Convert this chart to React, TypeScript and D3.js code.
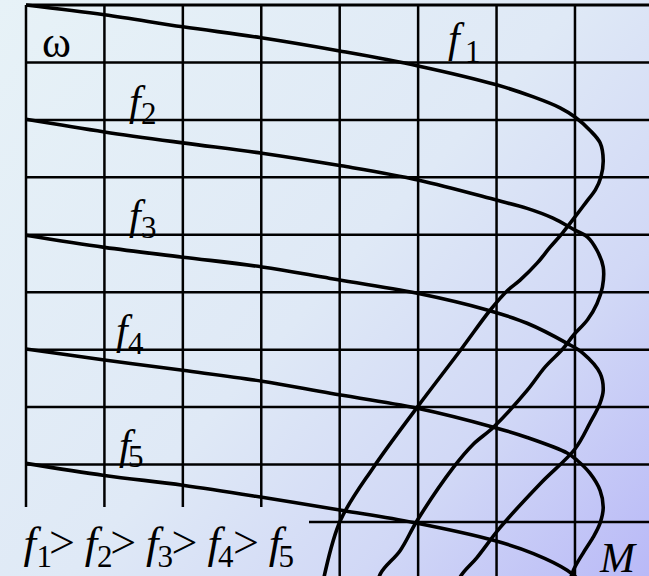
import React from "react";
import * as d3 from "d3";

// Grid positions (M columns, ω rows)
const gridM = [0, 1, 2, 3, 4, 5, 6, 7];
const gridOmega = [10, 9, 8, 7, 6, 5, 4, 3, 2, 1];

// Mechanical characteristics ω(M): [M, ω]
const curveF1: [number, number][] = [
  [0, 10], [1, 9.83], [2, 9.62], [3, 9.43], [4, 9.2], [5, 8.94], [6, 8.61],
  [6.47, 8.4], [6.81, 8.21], [7, 8.05], [7.19, 7.82], [7.32, 7.6], [7.36, 7.3],
  [7.33, 7.0], [7.26, 6.78], [7.16, 6.6], [7.0, 6.31], [6.84, 6.03], [6.68, 5.78],
  [6.52, 5.51], [6.3, 5.21], [6.14, 5.03], [5.92, 4.69], [5.54, 3.99], [4.99, 3.0],
  [4.43, 1.95], [4.01, 1.03], [3.81, 0.1], [3.76, -0.3],
];
const curveF2: [number, number][] = [
  [0, 8.01], [1, 7.79], [2, 7.6], [3.01, 7.42], [4.02, 7.2], [5.01, 6.95], [6.01, 6.6],
  [6.39, 6.46], [6.72, 6.29], [7, 6.08], [7.16, 5.96], [7.28, 5.73], [7.36, 5.44],
  [7.35, 5.09], [7.28, 4.8], [7.16, 4.52], [6.98, 4.25], [6.85, 4.02], [6.62, 3.7],
  [6.39, 3.29], [5.96, 2.65], [5.7, 2.35], [5.45, 1.95], [4.99, 1.03], [4.77, 0.5],
  [4.52, 0.1], [4.45, -0.3],
];
const curveF3: [number, number][] = [
  [0, 5.99], [1, 5.78], [2, 5.61], [3.01, 5.44], [3.88, 5.24], [4.99, 4.98],
  [5.88, 4.69], [6.39, 4.46], [6.9, 4.11], [7.1, 3.94], [7.32, 3.59], [7.36, 3.29],
  [7.32, 3.07], [7.19, 2.72], [7.0, 2.27], [6.56, 1.67], [6.05, 0.91], [5.75, 0.38],
  [5.54, 0.05], [5.45, -0.3],
];
const curveF4: [number, number][] = [
  [0, 4.01], [1, 3.82], [2, 3.64], [3.01, 3.45], [3.88, 3.24], [4.99, 2.98],
  [5.96, 2.65], [6.39, 2.47], [6.9, 2.2], [7.03, 2.07], [7.19, 1.85], [7.32, 1.55],
  [7.36, 1.25], [7.32, 0.98], [7.23, 0.73], [7.1, 0.45], [6.98, 0.16], [6.9, -0.2],
];
const curveF5: [number, number][] = [
  [0, 2.02], [1, 1.81], [2, 1.64], [3.01, 1.43], [4.04, 1.2], [4.94, 0.99],
  [5.96, 0.68], [6.47, 0.45], [6.9, 0.16], [7.08, -0.05], [7.2, -0.25],
];
const curves = [curveF1, curveF2, curveF3, curveF4, curveF5];
const freqIdx = ["1", "2", "3", "4", "5"];

const W = 649;
const H = 576;

export default function App() {
  const x = d3.scaleLinear().domain([0, 8]).range([26, 653.4]);
  const y = d3.scaleLinear().domain([0, 10]).range([579.4, 5]);
  const line = d3
    .line<[number, number]>()
    .x((d) => x(d[0]))
    .y((d) => y(d[1]))
    .curve(d3.curveCatmullRom.alpha(0.5));

  const serif = "'Liberation Serif', 'Times New Roman', serif";
  const boxTop = 507;
  const boxRight = 309;

  const labelPos = [
    { fx: 448, by: 52, sx: 465, sy: 62 },
    { fx: 129, by: 115, sx: 141, sy: 124 },
    { fx: 129, by: 229, sx: 141, sy: 238 },
    { fx: 116, by: 344, sx: 128, sy: 354 },
    { fx: 119, by: 459, sx: 128, sy: 467 },
  ];

  return (
    <svg
      width={W}
      height={H}
      style={{ position: "fixed", left: 0, top: 0, display: "block" }}
    >
      <defs>
        <linearGradient id="bg" gradientUnits="userSpaceOnUse" x1={0} y1={0} x2={W} y2={H}>
          <stop offset="0" stopColor="#e7f2f7" />
          <stop offset="0.5" stopColor="#dfe9f6" />
          <stop offset="0.75" stopColor="#d1d8f6" />
          <stop offset="1" stopColor="#b9b9f7" />
        </linearGradient>
      </defs>
      <rect x={0} y={0} width={W} height={H} fill="url(#bg)" />

      {/* grid */}
      <g stroke="#000" strokeWidth={2.5}>
        {gridM.map((m) => (
          <line
            key={"v" + m}
            x1={x(m)}
            x2={x(m)}
            y1={y(10)}
            y2={x(m) < boxRight ? boxTop : H}
          />
        ))}
        {gridOmega.map((w) => (
          <line
            key={"h" + w}
            x1={y(w) > boxTop ? boxRight : x(0)}
            x2={W}
            y1={y(w)}
            y2={y(w)}
            strokeWidth={w === 10 ? 3.2 : 2.5}
          />
        ))}
      </g>

      {/* characteristics */}
      <g fill="none" stroke="#000" strokeWidth={3.6} strokeLinejoin="round">
        {curves.map((c, i) => (
          <path key={i} d={line(c) || ""} />
        ))}
      </g>

      {/* labels */}
      <text x={42} y={57} fontFamily={serif} fontSize={44} fill="#000">
        ω
      </text>
      {labelPos.map((p, i) => (
        <text key={"lab" + i} fontFamily={serif} fill="#000">
          <tspan x={p.fx} y={p.by} fontSize={42} fontStyle="italic">
            f
          </tspan>
          <tspan x={p.sx} y={p.sy} fontSize={31}>
            {freqIdx[i]}
          </tspan>
        </text>
      ))}
      <text x={600} y={572} fontFamily={serif} fontSize={42} fontStyle="italic" fill="#000">
        M
      </text>

      {/* f1 > f2 > f3 > f4 > f5 */}
      <text fontFamily={serif} fill="#000">
        {freqIdx.map((n, i) => (
          <React.Fragment key={"ineq" + i}>
            <tspan x={23.5 + 61.3 * i} y={558} fontSize={45} fontStyle="italic">
              f
            </tspan>
            <tspan x={36.5 + 60.5 * i} y={567} fontSize={31}>
              {n}
            </tspan>
            {i < 4 && (
              <tspan x={49 + 61.3 * i} y={558} fontSize={46}>
                &gt;
              </tspan>
            )}
          </React.Fragment>
        ))}
      </text>
    </svg>
  );
}
